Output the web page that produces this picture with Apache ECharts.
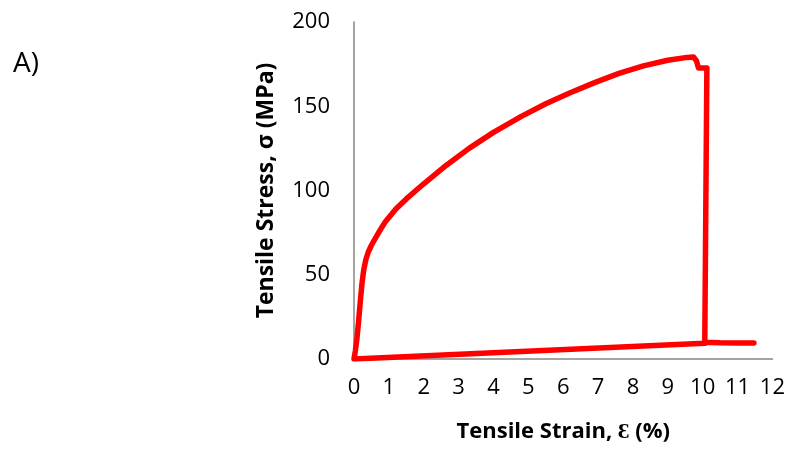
<!DOCTYPE html>
<html>
<head>
<meta charset="utf-8">
<script src="https://cdn.jsdelivr.net/npm/echarts@6/dist/echarts.min.js"></script>
<style>html,body{margin:0;padding:0;background:#fff;}#c{width:788px;height:451px;}</style>
</head>
<body>
<div id="c"></div>
<script>
// Tensile strain (%) and stress (MPa), path order as drawn
var strain = [10.06, 0, 0.04, 0.08, 0.13, 0.18, 0.23, 0.28, 0.34, 0.41, 0.5, 0.6, 0.72, 0.9, 1.2, 1.5, 2.0, 2.65, 3.3, 4.0, 4.8, 5.5, 6.2, 6.9, 7.6, 8.3, 9.0, 9.55, 9.74, 9.82, 9.88, 10.12, 10.06, 10.5, 11.0, 11.47];
var stress = [9.3, 0, 5, 11.3, 22, 34, 45, 53, 59, 63.5, 67.5, 71.2, 75.5, 81.5, 89, 95, 104, 115, 125, 134.5, 144, 151.5, 158, 164, 169.5, 174, 177.3, 179, 179.2, 177, 172.7, 172.7, 10, 9.6, 9.5, 9.5];
var xTicks = [0,1,2,3,4,5,6,7,8,9,10,11,12];
var yTicks = [0,50,100,150,200];
var xTitle = 'Tensile Strain, Ɛ (%)';
var yTitle = 'Tensile Stress, σ (MPa)';
var panelLabel = 'A)';

var data = strain.map(function(x,i){return [x, stress[i]];});
var chart = echarts.init(document.getElementById('c'));
var font = 'Open Sans';
chart.setOption({
  animation: false,
  backgroundColor: '#fff',
  title: {text: panelLabel, left: 8, top: 45, textStyle: {fontFamily: font, fontSize: 28, fontWeight: 'normal', color: '#000'}},
  grid: {left: 354, top: 22, right: 15, bottom: 92},
  xAxis: {
    type: 'value', min: xTicks[0], max: xTicks[xTicks.length-1], interval: 1,
    name: xTitle, nameLocation: 'middle', nameGap: 62,
    nameTextStyle: {fontFamily: font, fontSize: 22, fontWeight: 'bold', color: '#000'},
    axisLine: {show: true, lineStyle: {color: '#868686', width: 1.5}},
    axisTick: {show: false}, splitLine: {show: false},
    axisLabel: {fontFamily: font, fontSize: 22, color: '#000', margin: 18}
  },
  yAxis: {
    type: 'value', min: yTicks[0], max: yTicks[yTicks.length-1], interval: 50,
    name: yTitle, nameLocation: 'middle', nameGap: 76, nameRotate: 90,
    nameTextStyle: {fontFamily: font, fontSize: 23, fontWeight: 'bold', color: '#000'},
    axisLine: {show: true, lineStyle: {color: '#868686', width: 1.5}},
    axisTick: {show: false}, splitLine: {show: false},
    axisLabel: {fontFamily: font, fontSize: 22, color: '#000', margin: 24}
  },
  series: [{
    type: 'line', data: data, showSymbol: false, symbol: 'none',
    lineStyle: {color: '#ff0000', width: 5.5, cap: 'round', join: 'round'}
  }]
});
</script>
</body>
</html>
